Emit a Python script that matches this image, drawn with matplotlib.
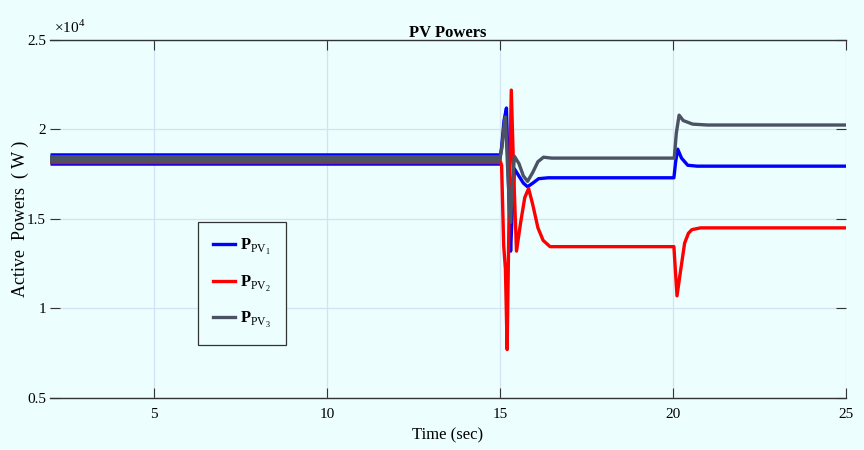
import matplotlib
matplotlib.use('Agg')
import matplotlib.pyplot as plt


# Values are in units of 1e4 W.
t_pv1 = [2.0, 15.0, 15.05, 15.12, 15.19, 15.25, 15.31, 15.36, 15.42, 15.55, 15.68,
         15.8, 15.95, 16.12, 16.4, 20.03, 20.08, 20.14, 20.25, 20.43, 20.7, 25.0]
p_pv1 = [1.835, 1.835, 1.90, 2.05, 2.12, 1.70, 1.32, 1.55, 1.78, 1.74, 1.70,
         1.68, 1.70, 1.725, 1.73, 1.73, 1.82, 1.89, 1.84, 1.80, 1.795, 1.795]

t_pv2 = [2.0, 15.0, 15.05, 15.11, 15.16, 15.21, 15.27, 15.33, 15.40, 15.48, 15.6,
         15.72, 15.83, 15.95, 16.1, 16.25, 16.45, 20.03, 20.07, 20.12, 20.2, 20.34,
         20.45, 20.55, 20.8, 25.0]
p_pv2 = [1.83, 1.83, 1.80, 1.35, 1.22, 0.77, 1.60, 2.22, 1.75, 1.32, 1.48,
         1.62, 1.67, 1.58, 1.45, 1.38, 1.345, 1.345, 1.22, 1.07, 1.18, 1.365,
         1.42, 1.44, 1.45, 1.45]

t_pv3 = [2.0, 15.0, 15.06, 15.12, 15.16, 15.22, 15.28, 15.31, 15.36, 15.42, 15.55,
         15.68, 15.8, 15.95, 16.1, 16.26, 16.5, 20.04, 20.1, 20.18, 20.3, 20.57,
         21.0, 25.0]
p_pv3 = [1.835, 1.835, 1.90, 2.02, 2.07, 1.80, 1.55, 1.48, 1.70, 1.85, 1.81,
         1.74, 1.71, 1.76, 1.82, 1.845, 1.84, 1.84, 1.98, 2.08, 2.05, 2.03,
         2.025, 2.025]

x_ticks = [5, 10, 15, 20, 25]
y_ticks = [0.5, 1, 1.5, 2, 2.5]
y_tick_labels = ['0.5', '1', '1.5', '2', '2.5']

series = [
    (t_pv1, p_pv1, '#0000ff', 9.0, r'$\mathbf{P}_{\mathrm{PV}_1}$'),
    (t_pv2, p_pv2, '#ff0000', 6.0, r'$\mathbf{P}_{\mathrm{PV}_2}$'),
    (t_pv3, p_pv3, '#4a5264', 5.5, r'$\mathbf{P}_{\mathrm{PV}_3}$'),
]

bg = '#edfefe'
plt.rcParams['font.family'] = ['Liberation Serif', 'DejaVu Serif']
plt.rcParams['mathtext.fontset'] = 'custom'
plt.rcParams['mathtext.rm'] = 'Liberation Serif'
plt.rcParams['mathtext.bf'] = 'Liberation Serif:bold'

fig = plt.figure(figsize=(8.64, 4.5), dpi=100, facecolor=bg)
ax = fig.add_axes([0.058, 0.116, 0.921, 0.795], facecolor=bg)
ax.set_axisbelow(True)
ax.grid(True, color='#d3e3f6', linewidth=0.9)

for t, p, col, band_lw, lab in series:
    # the oscillation before the fault shows as a thick band
    ax.plot(t[:2], p[:2], color=col, linewidth=band_lw, solid_capstyle='butt')
    ax.plot(t, p, color=col, linewidth=2.4, label=lab)

ax.set_xlim(2, 25)
ax.set_ylim(0.5, 2.5)
ax.set_xticks(x_ticks)
ax.set_yticks(y_ticks)
ax.set_yticklabels(y_tick_labels)
ax.tick_params(direction='in', length=7, color='#333333', labelsize=11,
               top=True, right=True)
ax.tick_params(axis='y', pad=3)
ax.tick_params(axis='x', pad=7)

for side in ['left', 'right']:
    ax.spines[side].set_visible(False)
for side in ['top', 'bottom']:
    ax.spines[side].set_color('#333333')
    ax.spines[side].set_linewidth(1.0)

ax.text(0.005, 1.012, r'$\times10^4$', transform=ax.transAxes, fontsize=11,
        ha='left', va='bottom')
ax.set_title('PV Powers', fontsize=12, fontweight='bold', pad=2)
ax.set_xlabel('Time (sec)', fontsize=12, labelpad=5)
ax.set_ylabel('Active  Powers  ( W )', fontsize=13)
ax.yaxis.set_label_coords(-0.027, 0.5)

leg = ax.legend(loc='upper left', bbox_to_anchor=(0.186, 0.492), fontsize=12,
                handlelength=1.3, labelspacing=1.0, borderpad=0.9,
                handletextpad=0.3, borderaxespad=0, fancybox=False,
                framealpha=1, facecolor=bg, edgecolor='#333333')
leg.get_frame().set_linewidth(0.9)

fig.savefig('out.png', dpi=100, facecolor=bg)
